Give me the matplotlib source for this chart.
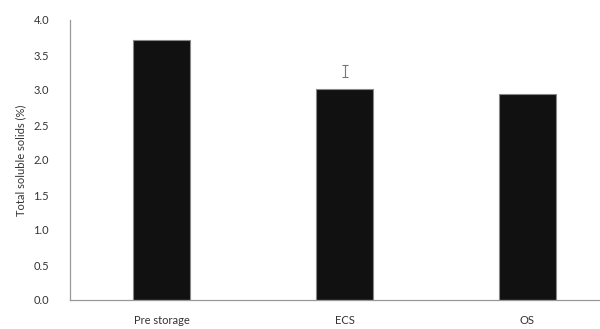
import numpy as np
import matplotlib.pyplot as plt

# Total soluble solids by storage treatment
treatments = ['Pre storage', 'ECS', 'OS']
tss = [3.71, 3.01, 2.94]

# error bar as plotted on the ECS column
err_x = 1
err_mid = 3.275
err_half = 0.085

plt.rcParams['font.family'] = ['Lato', 'DejaVu Sans']

fig = plt.figure(figsize=(6, 3.29), dpi=100)
ax = fig.add_axes([70 / 600, 29 / 329, 549 / 600, 280 / 329])

x = np.arange(len(treatments))
ax.bar(x, tss, width=0.31, color='#111111', edgecolor='#888888', linewidth=0.8)
ax.errorbar(err_x, err_mid, yerr=err_half, fmt='none', ecolor='#777777',
            elinewidth=0.8, capsize=2.5, capthick=0.8)

ax.set_xlim(-0.5, 2.5)
ax.set_ylim(0, 4.0)
ax.set_yticks(np.arange(0, 4.01, 0.5))
ax.set_yticklabels([f'{v:.1f}' for v in np.arange(0, 4.01, 0.5)])
ax.set_xticks(x)
ax.set_xticklabels(treatments)
ax.tick_params(length=0, labelsize=8, colors='#333333')
ax.tick_params(axis='x', pad=11)
ax.tick_params(axis='y', pad=15)
ax.set_ylabel('Total soluble solids (%)', fontsize=8, color='#333333', labelpad=5)

for s in ['top', 'right']:
    ax.spines[s].set_visible(False)
for s in ['left', 'bottom']:
    ax.spines[s].set_color('#999999')
    ax.spines[s].set_linewidth(0.9)

fig.savefig('out.png', dpi=100)
